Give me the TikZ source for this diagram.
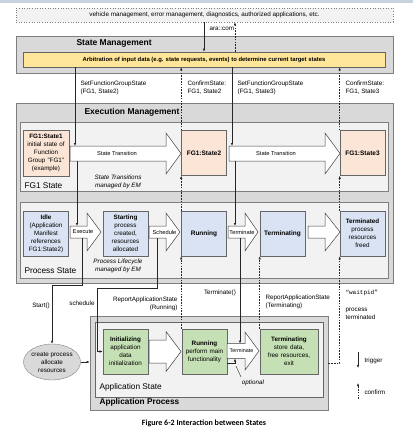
\documentclass[tikz,border=0pt]{standalone}
\usepackage{fontspec}
\setmainfont{Liberation Sans}
\newfontfamily\monof{Liberation Mono}
\newfontfamily\capf{Carlito}
\usetikzlibrary{arrows.meta,shapes.geometric}
\definecolor{boxgrey}{HTML}{D9D9D9}
\definecolor{lightgrey}{HTML}{F2F2F2}
\definecolor{edgegrey}{HTML}{7F7F7F}
\definecolor{yel}{HTML}{FFE699}
\definecolor{peach}{HTML}{FBE5D6}
\definecolor{bluebox}{HTML}{DAE3F3}
\definecolor{greenbox}{HTML}{C5E0B4}
\definecolor{band}{HTML}{C9D3E0}
\newcommand{\fatarrow}[6]{\draw[fat] (#1,#4-#5) -- (#2,#4-#5) -- (#2,#4-#6) -- (#3,#4) -- (#2,#4+#6) -- (#2,#4+#5) -- (#1,#4+#5) -- cycle;}
\begin{document}
\begin{tikzpicture}[x=1pt,y=-1pt,
  fs/.style={font=\fontsize{6.3}{8}\selectfont},
  fsa/.style={font=\fontsize{5.7}{6.5}\selectfont},
  ttl/.style={font=\fontsize{8.5}{9.5}\selectfont\bfseries, anchor=west},
  sub/.style={font=\fontsize{8.3}{9.5}\selectfont, anchor=west},
  box/.style={draw=edgegrey, line width=0.6pt, inner sep=0pt, align=center},
  stbox/.style={box, draw=black!60, minimum width=45pt, minimum height=45pt, text width=44pt, fs},
  bt/.style={font=\fontsize{6.5}{8}\selectfont\bfseries},
  trig/.style={draw=black!85, line width=0.5pt, -{Latex[length=3pt,width=2.4pt]}},
  conf/.style={trig, dash pattern=on 1.6pt off 1.2pt},
  fat/.style={draw=black!75, fill=white, line width=0.5pt, line join=miter}]
\useasboundingbox (0,0) rectangle (413,441);
\fill[band] (0,0) rectangle (413,3.5);
% top
\node[box, draw=gray, dotted, fill=lightgrey, minimum width=377pt, minimum height=14pt, fs] (topbox) at (204.5,15) {vehicle management, error management, diagnostics, authorized applications, etc.};
% State Management
\node[box, fill=boxgrey, minimum width=377pt, minimum height=37pt] (sm) at (204.5,54.5) {};
\node[ttl] (smt) at (73,43) {State Management};
\node[box, draw=black!60, fill=yel, minimum width=362pt, minimum height=15pt, font=\fontsize{5.9}{6.5}\selectfont\bfseries] (arb) at (204,59.5) {Arbitration of input data (e.g. state requests, events) to determine current target states};
% Execution Management
\node[box, fill=boxgrey, minimum width=377pt, minimum height=180pt] (em) at (204.5,193) {};
\node[ttl] (emt) at (81,112) {Execution Management};
\node[box, fill=lightgrey, minimum width=368pt, minimum height=69pt] (fg1) at (204,156.5) {};
\node[sub] (fg1t) at (21,185.5) {FG1 State};
\node[box, fill=lightgrey, minimum width=368pt, minimum height=76pt] (ps) at (204,240) {};
\node[sub] (pst) at (21,270.5) {Process State};
% FG1 states
\node[stbox, fill=peach, minimum width=46pt, minimum height=46pt] (fs1) at (46,153) {\textbf{FG1:State1}\\initial state of\\Function\\Group "FG1"\\(example)};
\node[stbox, fill=peach, bt] (fs2) at (204,153) {FG1:State2};
\node[stbox, fill=peach, bt] (fs3) at (362.5,153) {FG1:State3};
\fatarrow{70}{166}{181}{153.5}{7.5}{20.5}
\fatarrow{229}{325}{340}{153.5}{7.5}{20.5}
\node[fsa] (st1) at (117,153.5) {State Transition};
\node[fsa] (st2) at (276,153.5) {State Transition};
\node[fs, font=\fontsize{6.3}{8.5}\selectfont\itshape, align=center] (stm) at (118,182) {State Transitions\\managed by EM};
% process states
\node[stbox, fill=bluebox] (idle) at (46,233.5) {\textbf{Idle}\\(Application\\Manifest\\references\\FG1:State2)};
\node[stbox, fill=bluebox] (start) at (125.5,233.5) {\textbf{Starting}\\process\\created,\\resources\\allocated};
\node[stbox, fill=bluebox, bt] (prun) at (204,233.5) {Running};
\node[stbox, fill=bluebox, bt] (pterm) at (282.5,233.5) {Terminating};
\node[stbox, fill=bluebox] (pdone) at (362.5,233.5) {\textbf{Terminated}\\process\\resources\\freed};
\fatarrow{70}{87}{101}{232}{6}{19}
\fatarrow{149}{166}{180}{232}{6}{19}
\fatarrow{228}{245}{258}{232}{6}{19}
\fatarrow{308}{325}{340}{232}{6}{19}
\node[fsa] (exe) at (83,232) {Execute};
\node[fsa] (sch) at (164.5,232) {Schedule};
\node[fsa] (ter) at (242,232) {Terminate};
\node[fs, font=\fontsize{6.3}{8.5}\selectfont\itshape, align=center] (plm) at (118,266) {Process Lifecycle\\managed by EM};
% Application process
\node[box, fill=boxgrey, minimum width=238pt, minimum height=94pt] (ap) at (209,363) {};
\node[ttl, font=\fontsize{8.3}{9.5}\selectfont\bfseries] (apt) at (96,402.5) {Application Process};
\node[box, draw=black!60, fill=lightgrey, minimum width=228pt, minimum height=75pt] (as) at (209,359.5) {};
\node[sub] (ast) at (96,387) {Application State};
\node[stbox, fill=greenbox] (ainit) at (125.5,351.5) {\textbf{Initializing}\\application\\data\\initialization};
\node[stbox, fill=greenbox] (arun) at (204.5,351.5) {\textbf{Running}\\perform main\\functionality};
\node[stbox, fill=greenbox, minimum width=58pt, text width=57pt] (aterm) at (289,351.5) {\textbf{Terminating}\\store data,\\free resources,\\exit};
\fatarrow{149}{166}{181}{351.5}{11.5}{20}
\fatarrow{227}{245}{259}{351}{7.5}{19}
\node[fsa, font=\fontsize{5.4}{6}\selectfont] (ater) at (241.5,351) {Terminate};
\node[ellipse, draw=edgegrey, fill=boxgrey, minimum width=57pt, minimum height=36pt, inner sep=-2pt, align=center, fs] (cp) at (52,362) {create process\\allocate\\resources};
% connectors
\coordinate (cA) at (204,0);
\coordinate (cB) at (235,0);
\draw[trig] (topbox.south -| cA) -- (arb.north -| cA);
\draw[conf] (arb.north -| cB) -- (topbox.south -| cB);
\node[fs, anchor=west] (ara) at (206,29) {ara::com};
\coordinate (a1top) at (75,146);
\coordinate (a1bot) at (77,161);
\coordinate (exTop) at (77,226);
\coordinate (exBot) at (82,238);
\coordinate (scBot) at (157,238);
\draw[trig] (arb.south -| a1top) -- (a1top);
\draw[trig] (a1bot) -- (exTop);
\draw[trig] (exBot) -- ++(0,47) -| (cp.north);
\draw[trig] (scBot) -- ++(0,50) -- ++(-60,0) |- (ainit.west);
\coordinate (a2top) at (232,146);
\coordinate (a2bot) at (235,161);
\coordinate (tmTop) at (235,226);
\coordinate (tmBot) at (240,238);
\coordinate (atTop) at (240,343.5);
\draw[trig] (arb.south -| a2top) -- (a2top);
\draw[trig] (a2bot) -- (tmTop);
\draw[trig] (tmBot) -- (atTop);
\draw[conf] (arun.north -| prun.west) -- (prun.south west);
\draw[conf] (prun.north west) -- (fs2.south west);
\draw[conf] (fs2.north west) -- (arb.south -| fs2.west);
\draw[conf] (aterm.north -| pterm.west) -- (pterm.south west);
\draw[conf] (ap.east) -| (pdone.south west);
\draw[conf] (pdone.north west) -- (fs3.south west);
\draw[conf] (fs3.north west) -- (arb.south -| fs3.west);
\draw[trig] (cp.east) -- (cp.east -| ap.west);
\coordinate (optS) at (227,363);
\coordinate (optE) at (235,358.5);
\coordinate (ldA) at (236,366);
\coordinate (ldB) at (241,377);
\draw[trig] (optS) -| (optE);
\draw[draw=black!85, line width=0.4pt] (ldA) -- (ldB);
% labels
\node[fs, anchor=west, align=left] (l1) at (77,88) {SetFunctionGroupState\\(FG1, State2)};
\node[fs, anchor=west, align=left] (l2) at (184,88) {ConfirmState:\\FG1, State2};
\node[fs, anchor=west, align=left] (l3) at (234,88) {SetFunctionGroupState\\(FG1, State3)};
\node[fs, anchor=west, align=left] (l4) at (342,88) {ConfirmState:\\FG1, State3};
\node[fs] (l5) at (41,306) {Start()};
\node[fs] (l6) at (82,303) {schedule};
\node[fs, anchor=east, align=right] (l7) at (181,304) {ReportApplicationState\\(Running)};
\node[fs] (l8) at (220,293) {Terminate()};
\node[fs, anchor=west, align=left] (l9) at (262,302) {ReportApplicationState\\(Terminating)};
\node[fs, anchor=west, font=\monof\fontsize{6}{7}\selectfont] (l10) at (342,293) {“waitpid”};
\node[fs, anchor=west, align=left] (l11) at (342,314) {process\\terminated};
\node[fs, font=\fontsize{6.3}{7}\selectfont\itshape] (l12) at (253,383) {optional};
% legend
\coordinate (lg1) at (358,352);
\coordinate (lg2) at (358,368);
\coordinate (lg3) at (358,399);
\coordinate (lg4) at (358,383);
\draw[trig] (lg1) -- (lg2);
\draw[conf] (lg3) -- (lg4);
\node[fs, anchor=west] (lgt) at (361,361) {trigger};
\node[fs, anchor=west] (lgc) at (361,392) {confirm};
% caption
\node[font=\capf\bfseries\fontsize{8}{9}\selectfont] (cap) at (204,423) {Figure 6-2 Interaction between States};
\end{tikzpicture}
\end{document}
